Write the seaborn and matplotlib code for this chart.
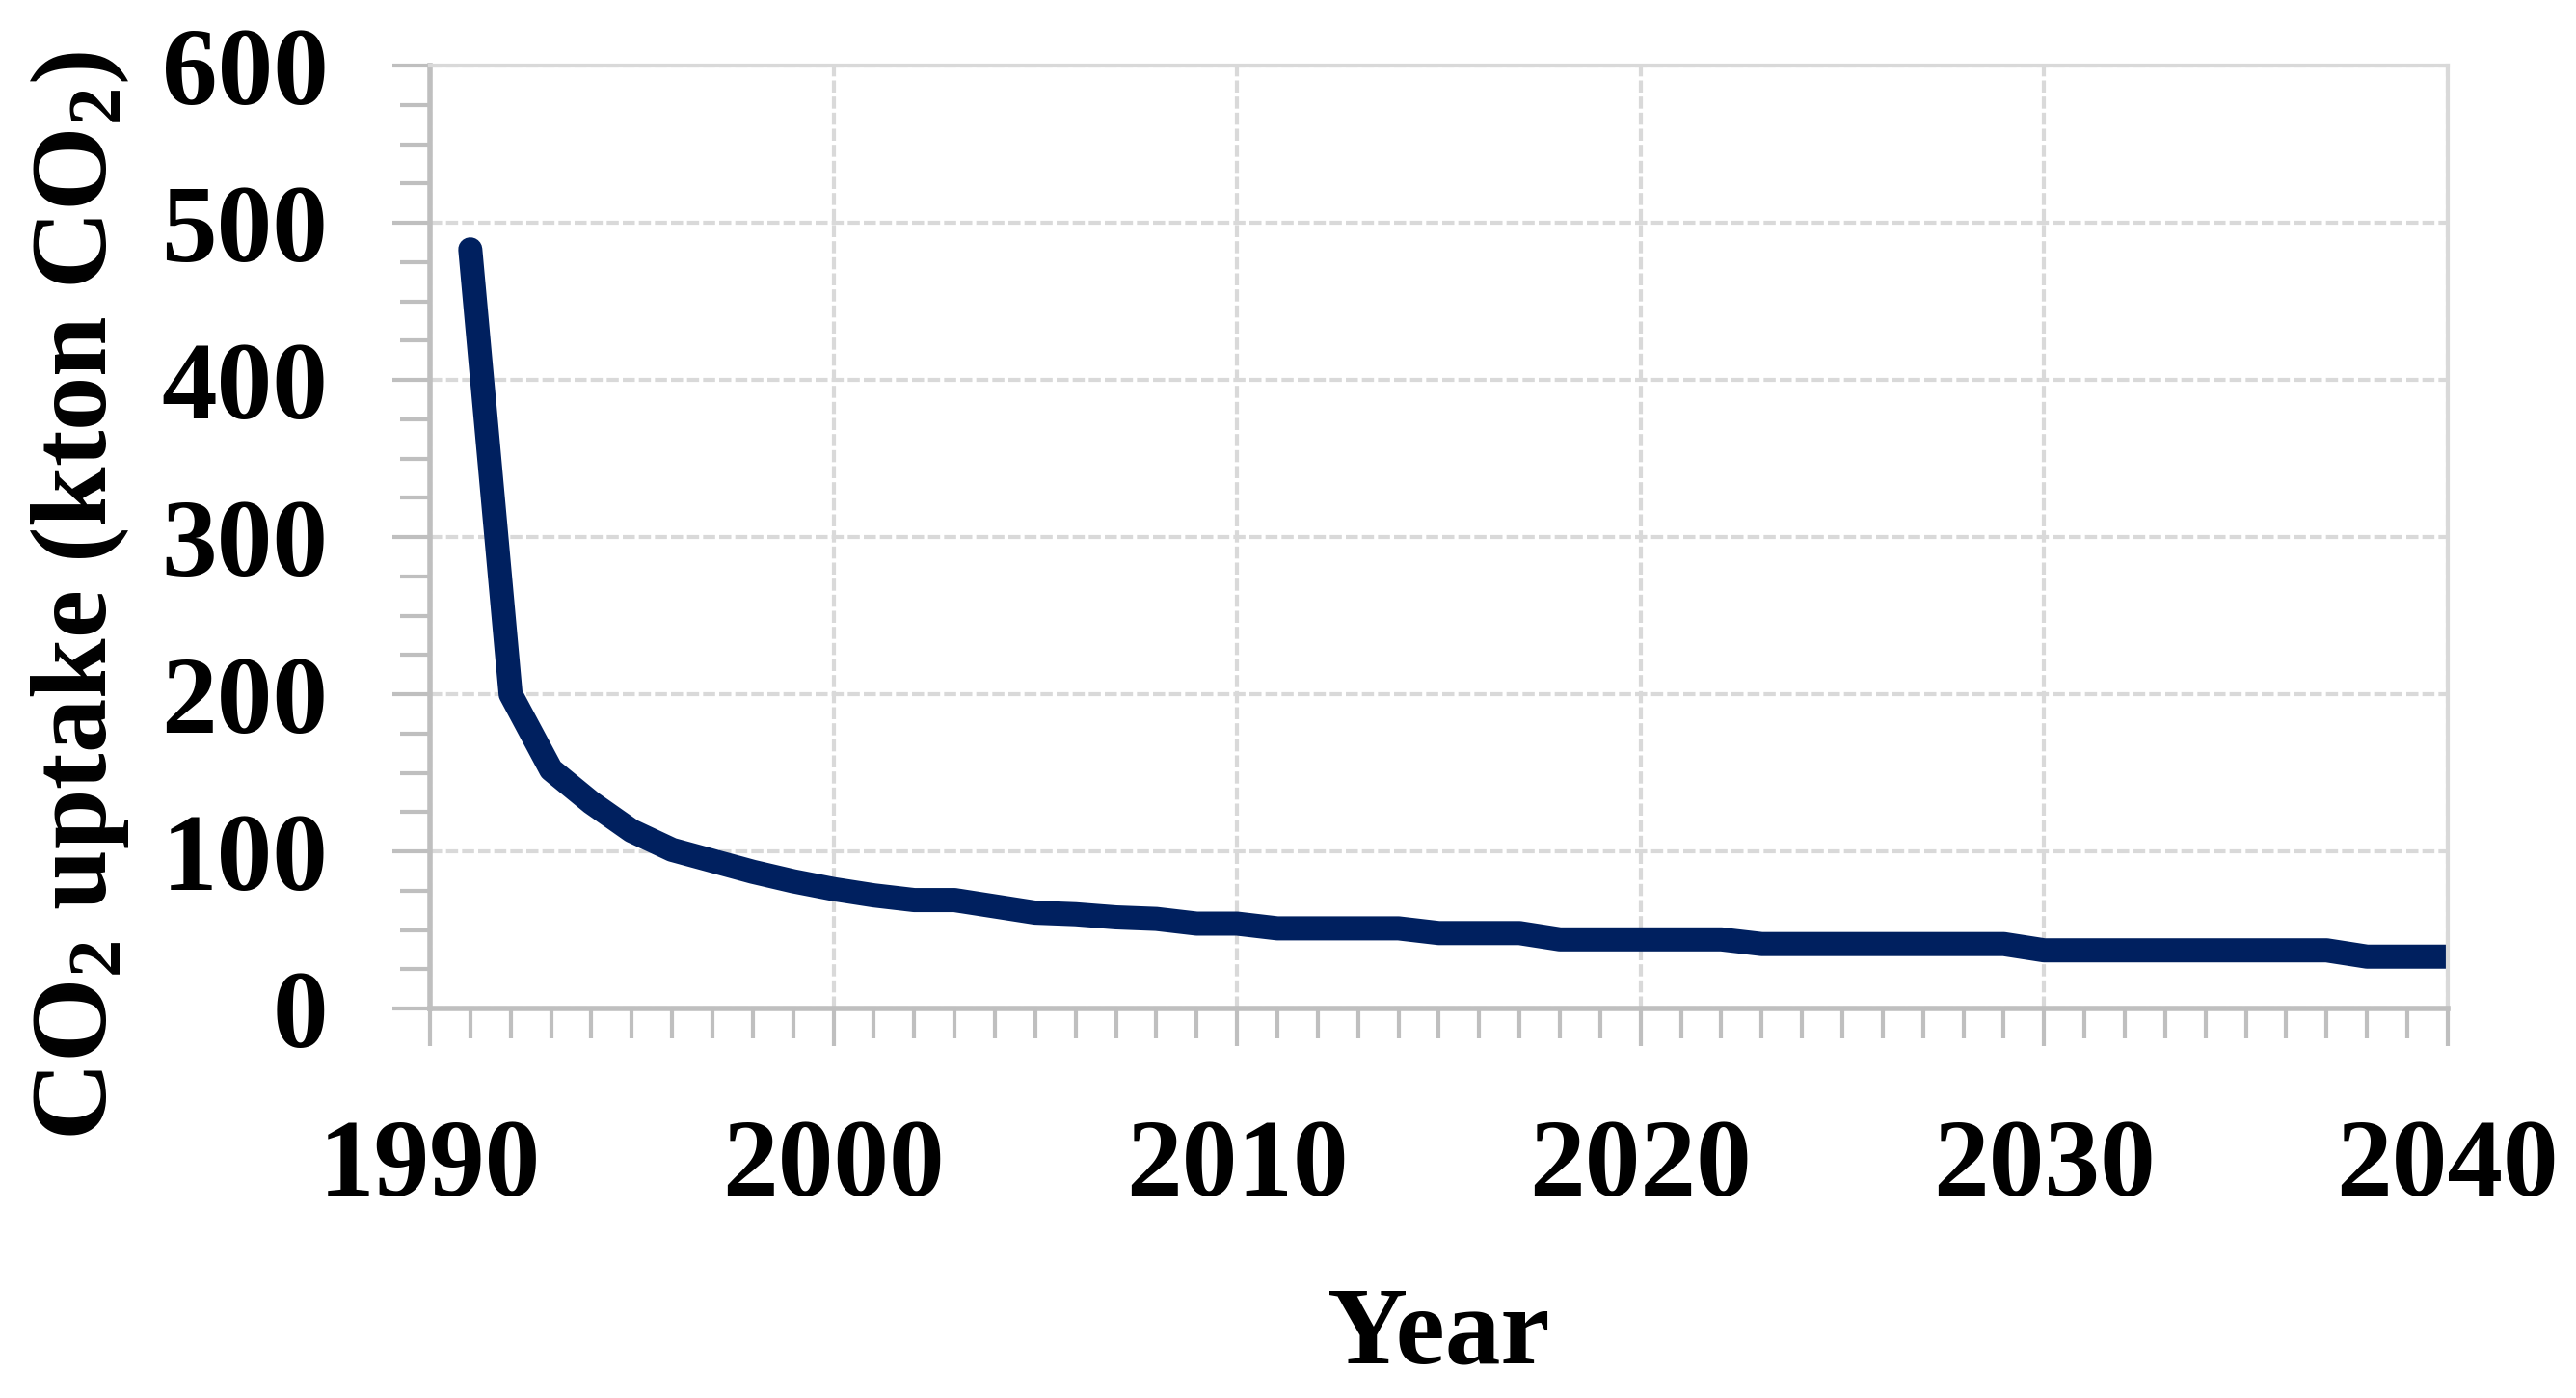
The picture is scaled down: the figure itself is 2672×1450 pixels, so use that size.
import numpy as np
import pandas as pd
import seaborn as sns
import matplotlib.pyplot as plt
from matplotlib.ticker import MultipleLocator

years = list(range(1991, 2041))
uptake = [483, 200, 152, 131, 113, 101, 94, 87, 81, 76,
          72, 69, 69, 65, 61, 60, 58, 57, 54, 54,
          51, 51, 51, 51, 48, 48, 48, 44, 44, 44,
          44, 44, 41, 41, 41, 41, 41, 41, 41, 37,
          37, 37, 37, 37, 37, 37, 37, 33, 33, 33]
df = pd.DataFrame({"year": years, "uptake": uptake})

sns.set_style("white")
plt.rcParams["font.family"] = ["Liberation Serif", "DejaVu Serif"]
plt.rcParams["font.weight"] = "bold"
plt.rcParams["mathtext.default"] = "regular"
plt.rcParams["text.color"] = "black"
plt.rcParams["xtick.color"] = "black"
plt.rcParams["ytick.color"] = "black"
plt.rcParams["axes.labelcolor"] = "black"

fig = plt.figure(figsize=(26.72, 14.5), dpi=100)
ax = fig.add_axes([0.1669, 0.2786, 0.7833, 0.6745])

sns.lineplot(data=df, x="year", y="uptake", ax=ax, color="#00205f",
             linewidth=18, solid_capstyle="round", solid_joinstyle="round")

ax.set_xlim(1990, 2040)
ax.set_ylim(0, 600)
ax.xaxis.set_major_locator(MultipleLocator(10))
ax.xaxis.set_minor_locator(MultipleLocator(1))
ax.yaxis.set_major_locator(MultipleLocator(100))
ax.yaxis.set_minor_locator(MultipleLocator(25))

ax.grid(True, which="major", color="#d9d9d9", linewidth=3, linestyle=(0, (3, 1)))
ax.set_axisbelow(True)
for side in ["left", "bottom"]:
    ax.spines[side].set_color("#bfbfbf")
    ax.spines[side].set_linewidth(4)
for side in ["top", "right"]:
    ax.spines[side].set_color("#d9d9d9")
    ax.spines[side].set_linewidth(3)

ax.tick_params(axis="both", which="both", bottom=True, left=True,
               direction="out", color="#bfbfbf", labelcolor="black")
ax.tick_params(axis="both", which="major", length=28, width=3, labelsize=83)
ax.tick_params(axis="both", which="minor", length=22, width=3)
ax.tick_params(axis="y", which="major", pad=48)
ax.tick_params(axis="x", which="major", pad=54)

ax.set_xlabel("Year", fontsize=83, fontweight="bold", labelpad=50)
ax.set_ylabel(r"CO$_2$ uptake (kton CO$_2$)", fontsize=81, fontweight="bold")
ax.yaxis.set_label_coords(-0.148, 0.438)

plt.savefig("out.png", dpi=100)
